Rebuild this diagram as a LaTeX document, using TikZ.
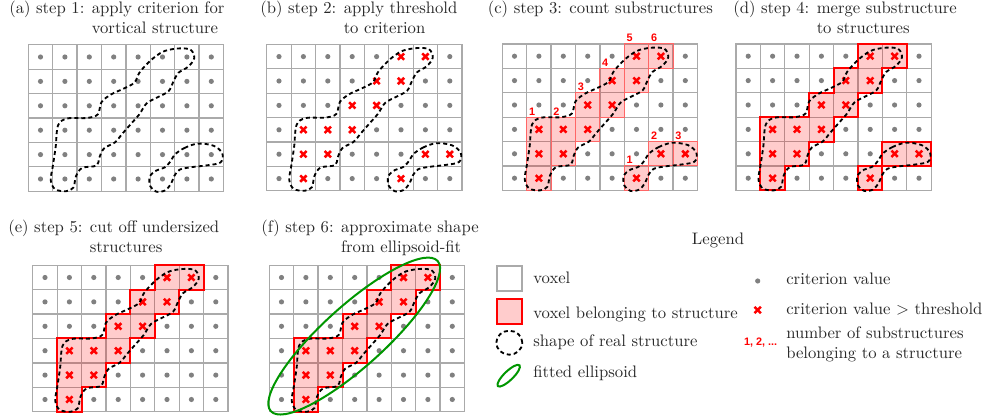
\documentclass[tikz,border=0pt]{standalone}
\usepackage{fontspec}
\newfontfamily\numfont{Liberation Sans}
\usepackage{tikz}
\usetikzlibrary{calc}
\definecolor{cGrid}{RGB}{170,170,170}
\definecolor{cDot}{RGB}{128,128,128}
\definecolor{cFit}{RGB}{0,150,0}
\definecolor{cText}{RGB}{40,40,40}
\tikzset{
  voxelline/.style={draw=cGrid, line width=0.8pt},
  critdot/.style={fill=cDot},
  crossline/.style={draw=red, line width=1.5pt},
  structfill/.style={fill=red, fill opacity=0.2},
  substruct/.style={draw=red!60, line width=0.6pt},
  structline/.style={draw=red, line width=1.2pt},
  realshape/.style={draw=black, line width=1.1pt, dash pattern=on 2.4pt off 1.8pt},
  fitellipse/.style={draw=cFit, line width=1.2pt},
  steptitle/.style={anchor=base west, inner sep=0pt, text=cText},
  legtext/.style={anchor=base west, inner sep=0pt, text=cText},
  subnum/.style={anchor=base west, inner sep=0pt, xshift=1.2pt, yshift=1.2pt,
                 text=red, font=\numfont\bfseries\fontsize{6.5}{7}\selectfont},
  xmark/.pic={\draw[crossline] (-1.9pt,-1.9pt) -- (1.9pt,1.9pt)
                                (-1.9pt,1.9pt) -- (1.9pt,-1.9pt);}
}
% cell lists: row/{columns}
\newcommand{\alldotcells}{5/{0,...,7},4/{0,...,7},3/{0,...,7},2/{0,...,7},1/{0,...,7},0/{0,...,7}}
\newcommand{\bothdotcells}{5/{0,1,2,3,4,7},4/{0,1,2,3,6,7},3/{0,1,2,5,6,7},2/{0,4,5,6,7},1/{0,3,4,5},0/{0,2,3,4,6,7}}
\newcommand{\bigdotcells}{5/{0,1,2,3,4,7},4/{0,1,2,3,6,7},3/{0,1,2,5,6,7},2/{0,4,5,6,7},1/{0,3,4,5,6,7},0/{0,2,3,4,5,6,7}}
\newcommand{\bothcrosscells}{5/{5,6},4/{4,5},3/{3,4},2/{1,2,3},1/{1,2,6,7},0/{1,5}}
\newcommand{\bigcrosscells}{5/{5,6},4/{4,5},3/{3,4},2/{1,2,3},1/{1,2},0/{1}}
\newcommand{\voxelgrid}{\foreach \i in {0,...,7} {\foreach \j in {0,...,5}
  {\draw[voxelline] (\i,\j) rectangle ++(1,1);}}}
\newcommand{\dotcells}[1]{\foreach \j/\cl in #1 {\foreach \i in \cl
  {\fill[critdot] (\i+0.5,\j+0.5) circle (1.55pt);}}}
\newcommand{\crosscells}[1]{\foreach \j/\cl in #1 {\foreach \i in \cl
  {\pic at (\i+0.5,\j+0.5) {xmark};}}}
\newcommand{\bigshape}{\draw[realshape] plot[smooth cycle, tension=0.55] coordinates {
  (6.15,5.85) (6.65,5.8) (6.8,5.45) (6.55,5.1) (6.15,4.85) (5.95,4.5) (5.75,4.1)
  (5.3,3.85) (4.85,3.6) (4.55,3.15) (4.2,2.75) (3.85,2.35) (3.55,2.0) (3.1,1.75)
  (2.9,1.35) (2.8,1.05) (2.2,0.95) (1.95,0.6) (1.85,0.15) (1.55,0.0) (1.1,0.08)
  (0.92,0.45) (1.0,1.0) (1.12,1.8) (1.22,2.7) (1.6,2.98) (2.4,3.0) (2.85,3.15)
  (3.0,3.65) (3.4,3.97) (3.9,4.2) (4.35,4.45) (4.55,4.85) (4.9,5.25) (5.25,5.55)
  (5.6,5.75)};}
\newcommand{\smallshape}{\draw[realshape] plot[smooth cycle, tension=0.55] coordinates {
  (6.0,1.5) (6.4,1.77) (6.95,1.95) (7.6,1.86) (7.95,1.55) (7.88,1.18) (7.33,1.06)
  (6.65,0.98) (6.2,0.88) (5.98,0.62) (5.85,0.3) (5.6,0.03) (5.25,-0.02) (5.0,0.2)
  (4.98,0.6) (5.25,0.85) (5.6,0.98) (5.85,1.25)};}
\newcommand{\bigfill}{\fill[structfill] (1,0) rectangle (2,3) (2,1) rectangle (3,3)
  (3,2) rectangle (4,4) (4,3) rectangle (5,5) (5,4) rectangle (6,6) (6,5) rectangle (7,6);}
\newcommand{\smallfill}{\fill[structfill] (5,0) rectangle (6,1) (6,1) rectangle (8,2);}
\newcommand{\bigoutline}{\draw[structline] (1,0) -- (1,3) -- (3,3) -- (3,4) -- (4,4)
  -- (4,5) -- (5,5) -- (5,6) -- (7,6) -- (7,5) -- (6,5) -- (6,4) -- (5,4) -- (5,3)
  -- (4,3) -- (4,2) -- (3,2) -- (3,1) -- (2,1) -- (2,0) -- cycle;}
\newcommand{\smalloutline}{\draw[structline] (5,0) rectangle (6,1) (6,1) rectangle (8,2);}

\begin{document}
\begin{tikzpicture}[x=0.6pt, y=0.6pt]
  \useasboundingbox (0,0) rectangle (988,419);

  % Step titles
  \node[steptitle] (ta) at (9,405) {\begin{tabular}[t]{@{}l@{\space}l@{}}(a) step 1: & apply criterion for\\ & vortical structure\end{tabular}};
  \node[steptitle] (tb) at (260,405) {\begin{tabular}[t]{@{}l@{\space}l@{}}(b) step 2: & apply threshold\\ & to criterion\end{tabular}};
  \node[steptitle] (tc) at (487.5,405) {(c) step 3: count substructures};
  \node[steptitle] (td) at (733,405) {\begin{tabular}[t]{@{}l@{\space}l@{}}(d) step 4: & merge substructure\\ & to structures\end{tabular}};
  \node[steptitle] (te) at (8,186.5) {\begin{tabular}[t]{@{}l@{\space}l@{}}(e) step 5: & cut off undersized\\ & structures\end{tabular}};
  \node[steptitle] (tf) at (261,186.5) {\begin{tabular}[t]{@{}l@{\space}l@{}}(f) step 6: & approximate shape\\ & from ellipsoid-fit\end{tabular}};

  % (a) criterion
  \begin{scope}[shift={(28.3,227.8)}, x=14.64pt, y=14.64pt]
    \voxelgrid
    \dotcells{\alldotcells}
    \bigshape \smallshape
  \end{scope}

  % (b) threshold
  \begin{scope}[shift={(266.8,228.2)}, x=14.64pt, y=14.64pt]
    \voxelgrid
    \dotcells{\bothdotcells}
    \crosscells{\bothcrosscells}
    \bigshape \smallshape
  \end{scope}

  % (c) substructures
  \begin{scope}[shift={(502.3,228.6)}, x=14.64pt, y=14.64pt]
    \voxelgrid
    \filldraw[structfill, substruct] (1,0) rectangle (2,3) (2,1) rectangle (3,3)
      (3,2) rectangle (4,4) (4,3) rectangle (5,5) (5,4) rectangle (6,6) (6,5) rectangle (7,6)
      (5,0) rectangle (6,1) (6,1) rectangle (7,2) (7,1) rectangle (8,2);
    \dotcells{\bothdotcells}
    \crosscells{\bothcrosscells}
    \bigshape \smallshape
    \node[subnum] (ca1) at (1,3) {1};
    \node[subnum] (ca2) at (2,3) {2};
    \node[subnum] (ca3) at (3,4) {3};
    \node[subnum] (ca4) at (4,5) {4};
    \node[subnum] (ca5) at (5,6) {5};
    \node[subnum] (ca6) at (6,6) {6};
    \node[subnum] (cb1) at (5,1) {1};
    \node[subnum] (cb2) at (6,2) {2};
    \node[subnum] (cb3) at (7,2) {3};
  \end{scope}

  % (d) merged structures
  \begin{scope}[shift={(736,228.6)}, x=14.64pt, y=14.64pt]
    \voxelgrid
    \bigfill \smallfill
    \dotcells{\bothdotcells}
    \crosscells{\bothcrosscells}
    \bigoutline \smalloutline
    \bigshape \smallshape
  \end{scope}

  % (e) undersized removed
  \begin{scope}[shift={(32.8,7.3)}, x=14.64pt, y=14.64pt]
    \voxelgrid
    \bigfill
    \dotcells{\bigdotcells}
    \crosscells{\bigcrosscells}
    \bigoutline
    \bigshape
  \end{scope}

  % (f) ellipsoid fit
  \begin{scope}[shift={(269.3,7.3)}, x=14.64pt, y=14.64pt]
    \voxelgrid
    \bigfill
    \dotcells{\bigdotcells}
    \crosscells{\bigcrosscells}
    \bigoutline
    \bigshape
    \draw[fitellipse, rotate around={42:(3.48,3.1)}] (3.48,3.1) ellipse (4.6 and 1.25);
  \end{scope}

  % Legend
  \node[anchor=base, inner sep=0pt, text=cText] (leg) at (718,174) {Legend};
  \draw[voxelline, line width=1pt] (497.3,128.3) rectangle (522,153);
  \node[legtext] (lvox) at (533,135.7) {voxel};
  \fill[structfill] (497.3,95) rectangle (522,119.7);
  \draw[structline] (497.3,95) rectangle (522,119.7);
  \node[legtext] (lstruct) at (533,100.7) {voxel belonging to structure};
  \draw[realshape] (509.3,76.3) ellipse (13 and 12);
  \node[legtext] (lshape) at (533,72.3) {shape of real structure};
  \draw[fitellipse, rotate around={44:(508.7,43.3)}] (508.7,43.3) ellipse (15 and 4.5);
  \node[legtext] (lfit) at (533,41.7) {fitted ellipsoid};
  \fill[critdot] (757.7,138) circle (1.55pt);
  \node[legtext] (ldot) at (786,134) {criterion value};
  \pic at (757.7,109) {xmark};
  \node[legtext] (lcross) at (786,104) {criterion value $>$ threshold};
  \node[subnum, anchor=base east, xshift=0pt, yshift=0pt] (lnum) at (775.5,71) {1, 2, ...};
  \node[legtext] (lsub) at (786,80) {\begin{tabular}[t]{@{}l@{}}number of substructures\\belonging to a structure\end{tabular}};
\end{tikzpicture}
\end{document}
